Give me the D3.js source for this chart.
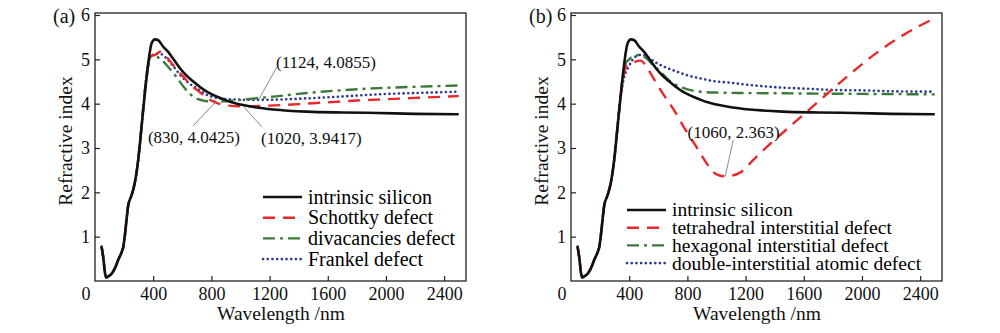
<!DOCTYPE html>
<html>
<head>
<meta charset="utf-8">
<script src="https://cdn.jsdelivr.net/npm/d3@7"></script>
<style>
body{margin:0;background:#fff;}
svg text{font-family:"Liberation Serif","Times New Roman","DejaVu Serif",serif;}
.axis text{font-size:18px;fill:#111;}
.axis line{stroke:#222;stroke-width:1.2;}
</style>
</head>
<body>
<div class="chart-container"></div>
<script>
//Data
const x_ticks = [400, 800, 1200, 1600, 2000, 2400];
const y_ticks = [1, 2, 3, 4, 5, 6];

// shared rising part (all curves overlap here)
const rise_wl = [45, 56, 75, 90, 110, 126, 145, 160, 183, 195, 206, 218, 228, 251, 274, 297, 320];
const rise_n  = [0.78, 0.55, 0.08, 0.1, 0.15, 0.22, 0.35, 0.48, 0.65, 0.78, 1.05, 1.42, 1.7, 1.93, 2.22, 2.73, 3.48];

// intrinsic silicon
const si_wl = [343, 366, 389, 412, 435, 470, 500, 540, 584, 630, 676, 720, 768, 830, 882, 940, 1000, 1100, 1226, 1455, 1700, 1945, 2200, 2500];
const si_n  = [4.24, 4.91, 5.36, 5.45, 5.43, 5.28, 5.18, 5.0, 4.8, 4.63, 4.5, 4.38, 4.27, 4.17, 4.1, 4.03, 3.98, 3.92, 3.87, 3.82, 3.8, 3.79, 3.77, 3.76];

// (a) Schottky defect
const schottky_wl = [343, 366, 390, 415, 447, 480, 527, 570, 607, 650, 700, 750, 790, 850, 905, 960, 1020, 1100, 1200, 1400, 1600, 1800, 2000, 2200, 2500];
const schottky_n  = [4.3, 4.85, 5.08, 5.1, 5.17, 5.1, 4.91, 4.74, 4.61, 4.45, 4.31, 4.18, 4.09, 4.0, 3.96, 3.945, 3.9417, 3.945, 3.955, 3.99, 4.03, 4.07, 4.1, 4.13, 4.17];

// (a) divacancies defect
const divac_wl = [343, 366, 378, 400, 430, 470, 505, 539, 575, 607, 640, 676, 710, 744, 790, 830, 900, 1000, 1100, 1226, 1455, 1684, 1945, 2200, 2500];
const divac_n  = [4.3, 4.85, 5.05, 5.08, 5.05, 4.95, 4.82, 4.69, 4.53, 4.39, 4.26, 4.16, 4.1, 4.07, 4.05, 4.0425, 4.055, 4.085, 4.12, 4.16, 4.24, 4.3, 4.35, 4.38, 4.41];

// (a) Frankel defect
const frankel_wl = [343, 367, 390, 412, 440, 493, 539, 607, 650, 699, 768, 813, 905, 1000, 1124, 1226, 1455, 1684, 1945, 2200, 2500];
const frankel_n  = [4.3, 4.95, 5.08, 5.12, 5.13, 5.02, 4.84, 4.57, 4.45, 4.35, 4.2, 4.15, 4.1, 4.09, 4.0855, 4.09, 4.12, 4.16, 4.21, 4.24, 4.27];

// (b) tetrahedral interstitial defect
const tetra_wl = [343, 366, 386, 420, 478, 510, 546, 615, 707, 787, 867, 940, 981, 1020, 1060, 1110, 1165, 1250, 1348, 1531, 1715, 1898, 2081, 2265, 2500];
const tetra_n  = [4.2, 4.7, 4.87, 4.92, 4.97, 4.88, 4.69, 4.31, 3.86, 3.41, 3.0, 2.62, 2.45, 2.38, 2.363, 2.38, 2.45, 2.72, 3.03, 3.56, 4.09, 4.61, 5.1, 5.51, 5.93];

// (b) hexagonal interstitial defect
const hexa_wl = [343, 366, 375, 400, 421, 478, 520, 560, 615, 650, 684, 730, 775, 830, 890, 1000, 1200, 1600, 2000, 2500];
const hexa_n  = [4.25, 4.75, 4.91, 5.0, 5.06, 5.1, 5.02, 4.88, 4.72, 4.6, 4.5, 4.41, 4.35, 4.3, 4.27, 4.25, 4.24, 4.23, 4.22, 4.21];

// (b) double-interstitial atomic defect
const dbl_wl = [343, 366, 397, 443, 480, 512, 550, 592, 650, 730, 800, 890, 1000, 1074, 1200, 1417, 1600, 1806, 2000, 2200, 2500];
const dbl_n  = [4.2, 4.6, 4.84, 5.06, 5.1, 5.08, 5.0, 4.91, 4.82, 4.72, 4.64, 4.57, 4.5, 4.48, 4.43, 4.37, 4.34, 4.31, 4.3, 4.28, 4.27];

// labels of the marked points
const marks_a = [[1124, 4.0855], [830, 4.0425], [1020, 3.9417]];
const marks_b = [[1060, 2.363]];

//Styles
const line_styles = {
    solid:   {color: '#111', width: 2.6, dash: null, cap: 'butt'},
    dash:    {color: '#e8282b', width: 2.4, dash: '12,8', cap: 'butt'},
    dashdot: {color: '#3b7a3b', width: 2.4, dash: '12,5,3,5', cap: 'butt'},
    dot:     {color: '#2d3a93', width: 2.6, dash: '0.1,4.6', cap: 'round'}
};

const to_points = (wl, n) => rise_wl.map((d, i) => [d, rise_n[i]])
    .concat(wl.map((d, i) => [d, n[i]]));

const panels = [
    {
        tag: '(a)', left: 95,
        series: [
            {name: 'intrinsic silicon', pts: to_points(si_wl, si_n), style: 'solid'},
            {name: 'Schottky defect', pts: to_points(schottky_wl, schottky_n), style: 'dash'},
            {name: 'divacancies defect', pts: to_points(divac_wl, divac_n), style: 'dashdot'},
            {name: 'Frankel defect', pts: to_points(frankel_wl, frankel_n), style: 'dot'}
        ],
        legend: {x: 168, y: 184, step: 20.7, size: 20},
        marks: marks_a,
        // leader end / label offsets (px) from each marked point
        mark_layout: [[18.5, -33, 67.5, -32], [-22.5, 24, -21.8, 41.2], [18.3, 20.5, 68, 37.8]]
    },
    {
        tag: '(b)', left: 571,
        series: [
            {name: 'intrinsic silicon', pts: to_points(si_wl, si_n), style: 'solid'},
            {name: 'tetrahedral interstitial defect', pts: to_points(tetra_wl, tetra_n), style: 'dash'},
            {name: 'hexagonal interstitial defect', pts: to_points(hexa_wl, hexa_n), style: 'dashdot'},
            {name: 'double-interstitial atomic defect', pts: to_points(dbl_wl, dbl_n), style: 'dot'}
        ],
        legend: {x: 56, y: 197, step: 17.7, size: 19.5},
        marks: marks_b,
        mark_layout: [[8, -36, 8.3, -38]]
    }
];

const svg_width = 1000;
const svg_height = 333;
const chart_width = 371;
const chart_top = 13;
const chart_height = 268;

const svg = d3.select('.chart-container')
    .append('svg')
    .attr('width', svg_width)
    .attr('height', svg_height);
svg.append('rect').attr('width', svg_width).attr('height', svg_height).attr('fill', '#fff');

function draw_panel(p){
    const g = svg.append('g').attr('transform', `translate(${p.left}, ${chart_top})`);
    const x_scale = d3.scaleLinear([0, 2550], [0, chart_width]);
    const y_scale = d3.scaleLinear([0, 6.045], [chart_height, 0]);

    // axes, ticks pointing inward
    const x_axis = d3.axisBottom(x_scale).tickValues(x_ticks)
        .tickFormat(d3.format('d'))
        .tickSizeInner(-5).tickSizeOuter(0).tickPadding(6);
    const x_draw = g.append('g').attr('class', 'x axis')
        .attr('transform', `translate(0, ${chart_height})`).call(x_axis)
        .attr('font-family', null).attr('font-size', null);
    x_draw.select('.domain').remove();
    const y_axis = d3.axisLeft(y_scale).tickValues(y_ticks)
        .tickFormat(d3.format('d'))
        .tickSizeInner(-5).tickSizeOuter(0).tickPadding(5);
    const y_draw = g.append('g').attr('class', 'y axis').call(y_axis)
        .attr('font-family', null).attr('font-size', null);
    y_draw.select('.domain').remove();
    // shared origin label
    g.append('text')
        .attr('x', x_scale(0) - 9).attr('y', chart_height + 19)
        .attr('text-anchor', 'middle')
        .style('font-size', '18px').style('fill', '#111')
        .text('0');

    // frame
    g.append('rect').attr('width', chart_width).attr('height', chart_height)
        .attr('fill', 'none').attr('stroke', '#222').attr('stroke-width', 1.3);

    // curves
    const line = d3.line()
        .x(d => x_scale(d[0]))
        .y(d => y_scale(d[1]))
        .curve(d3.curveMonotoneX);
    p.series.slice().reverse().forEach(s => {
        const st = line_styles[s.style];
        g.append('path').datum(s.pts)
            .attr('d', line)
            .attr('fill', 'none')
            .attr('stroke', st.color)
            .attr('stroke-width', st.width)
            .attr('stroke-dasharray', st.dash)
            .attr('stroke-linecap', st.cap)
            .attr('stroke-linejoin', 'round');
    });

    // marked points
    p.marks.forEach((m, i) => {
        const px = x_scale(m[0]);
        const py = y_scale(m[1]);
        const lay = p.mark_layout[i];
        g.append('line')
            .attr('x1', px).attr('y1', py)
            .attr('x2', px + lay[0]).attr('y2', py + lay[1])
            .attr('stroke', '#8a8a8a').attr('stroke-width', 1);
        g.append('text')
            .attr('x', px + lay[2]).attr('y', py + lay[3])
            .attr('text-anchor', 'middle')
            .style('font-size', '17px').style('fill', '#111')
            .text(`(${m[0]}, ${m[1]})`);
    });

    // legend
    const leg = g.append('g').attr('transform', `translate(${p.legend.x}, ${p.legend.y})`);
    p.series.forEach((s, i) => {
        const st = line_styles[s.style];
        const ly = i * p.legend.step;
        leg.append('line')
            .attr('x1', 0).attr('x2', 39).attr('y1', ly).attr('y2', ly)
            .attr('stroke', st.color)
            .attr('stroke-width', st.width)
            .attr('stroke-dasharray', st.dash)
            .attr('stroke-linecap', st.cap);
        leg.append('text')
            .attr('x', 45).attr('y', ly).attr('dy', '0.33em')
            .style('font-size', p.legend.size + 'px').style('fill', '#000')
            .text(s.name);
    });

    // titles
    g.append('text')
        .attr('x', chart_width / 2 + 0.5).attr('y', chart_height + 38.5)
        .attr('text-anchor', 'middle')
        .style('font-size', '19.5px').style('fill', '#111')
        .text('Wavelength /nm');
    g.append('text')
        .attr('transform', `translate(-23, ${chart_height / 2 - 6}) rotate(-90)`)
        .attr('text-anchor', 'middle')
        .style('font-size', '19.5px').style('fill', '#111')
        .text('Refractive index');
    g.append('text')
        .attr('x', -42).attr('y', 10)
        .style('font-size', '20px').style('fill', '#111')
        .text(p.tag);
}

panels.forEach(draw_panel);
</script>
</body>
</html>
